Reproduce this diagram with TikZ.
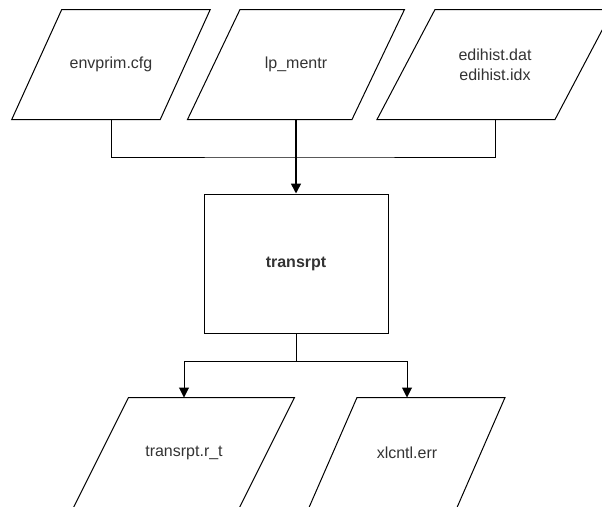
\documentclass[tikz,border=0pt]{standalone}
\usepackage{fontspec}
\setmainfont{Liberation Sans}
\usetikzlibrary{arrows.meta,calc}
\begin{document}
\begin{tikzpicture}[x=1pt,y=-1pt,
  line width=1pt,
  txt/.style={inner sep=0pt, align=center, text=black!80, font=\fontsize{16}{20}\selectfont},
  io/.style={txt, minimum height=109pt, minimum width=10pt},
  proc/.style={txt, draw, line width=1pt, minimum width=184pt, minimum height=139pt, font=\fontsize{16}{20}\selectfont\bfseries},
  arr/.style={-{Triangle[length=10pt,width=10pt]}},
  mainarr/.style={arr, line width=1.6pt},
  pgram/.style={line width=1pt, line join=miter}
]
\clip (0,0) rectangle (602,506);
\fill[white] (0,0) rectangle (602,506);

% input parallelograms
\node[io] (p1) at (111,64.5) {envprim.cfg};
\node[io] (p2) at (296,64.5) {lp\_mentr};
\node[io] (p3) at (495,64.5) {edihist.dat\\edihist.idx};
% process
\node[proc] (box) at (296,263.5) {transrpt};
% output parallelograms
\node[io] (p4) at (184,452.5) {transrpt.r\_t};
\node[io] (p5) at (407,452.5) {xlcntl.err};

% parallelogram outlines
\draw[pgram] ($(p1.north)+(-49.25,0)$) -- ($(p1.north)+(99.25,0)$) -- ($(p1.south)+(49.25,0)$) -- ($(p1.south)+(-99.25,0)$) -- cycle;
\draw[pgram] ($(p2.north)+(-56,0)$) -- ($(p2.north)+(108.5,0)$) -- ($(p2.south)+(56,0)$) -- ($(p2.south)+(-108.5,0)$) -- cycle;
\draw[pgram] ($(p3.north)+(-60,0)$) -- ($(p3.north)+(118,0)$) -- ($(p3.south)+(60,0)$) -- ($(p3.south)+(-118,0)$) -- cycle;
\draw[pgram] ($(p4.north)+(-55.5,0)$) -- ($(p4.north)+(110.5,0)$) -- ($(p4.south)+(55.5,0)$) -- ($(p4.south)+(-110.5,0)$) -- cycle;
\draw[pgram] ($(p5.north)+(-50,0)$) -- ($(p5.north)+(98,0)$) -- ($(p5.south)+(50,0)$) -- ($(p5.south)+(-98,0)$) -- cycle;

% connectors
\coordinate (j1) at (296,157);
\coordinate (j2) at (296,361);
\draw (p1.south) |- (j1) -| (p3.south);
\draw[mainarr] (p2.south) -- (box.north);
\draw (box.south) -- (j2);
\draw[arr] (j2) -| (p4.north);
\draw[arr] (j2) -| (p5.north);
\end{tikzpicture}
\end{document}
